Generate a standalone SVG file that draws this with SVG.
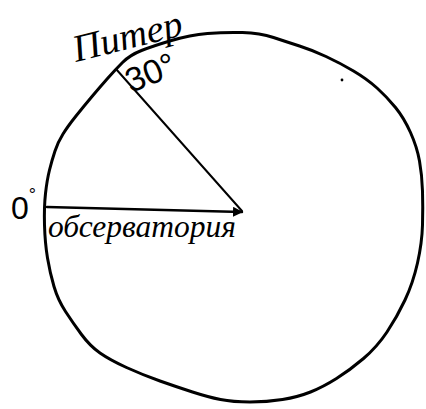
<svg xmlns="http://www.w3.org/2000/svg" width="426" height="409" viewBox="0 0 426 409">
<style>
.ink{fill:none;stroke:#000;stroke-linecap:round;stroke-linejoin:round}
.hand{font-family:"Liberation Serif","DejaVu Serif",serif;font-style:italic;fill:#000}
.num{font-family:"Liberation Sans","DejaVu Sans",sans-serif;fill:#000}
</style>
<defs>
<marker id="tip" viewBox="0 0 10 10" refX="9" refY="5" markerWidth="4" markerHeight="4" orient="auto">
<path d="M0,0 L10,5 L0,10 Z" fill="#000"/>
</marker>
</defs>
<rect width="426" height="409" fill="#fff"/>
<g id="earth">
<path class="ink" stroke-width="3" d="M 141.5,50.5 Q 153,46 171.5,40.5 Q 190,35 207.5,33.5 Q 225,32 242.5,32.5 Q 260,33 273.5,37.5 Q 287,42 299.5,46 Q 312,50 326,56.5 Q 340,63 353.5,71 Q 367,79 377,88 Q 387,97 395.5,107.5 Q 404,118 410.5,132.5 Q 417,147 419.5,161 Q 422,175 422.5,191 Q 423,207 422.5,225 Q 422,243 417.5,263 Q 413,283 405,300 Q 397,317 387,332 Q 377,347 363.5,358.5 Q 350,370 336.5,378.5 Q 323,387 310.5,392 Q 298,397 282.5,399.5 Q 267,402 250,402 Q 233,402 220.5,399.5 Q 208,397 192.5,392 Q 177,387 160,381 Q 143,375 126.5,367.5 Q 110,360 100,353 Q 90,346 81.5,334.5 Q 73,323 65.5,311.5 Q 58,300 54,286.5 Q 50,273 47.5,258 Q 45,243 44.5,225 Q 44,207 45.5,193.5 Q 47,180 49.5,170 Q 52,160 55,151 Q 58,142 63,134 Q 68,126 76,116 Q 84,106 92,96.5 Q 100,87 107.5,78.5 Q 115,70 122.5,62.5 Q 130,55 141.5,50.5 Z"/>
<circle cx="342" cy="80" r="1.4" fill="#000"/>
</g>
<g id="connectors">
<line class="ink" stroke-width="2" x1="116" y1="69" x2="242" y2="211"/>
<line class="ink" stroke-width="2.5" x1="47" y1="207" x2="242" y2="212" marker-end="url(#tip)"/>
</g>
<g id="piter">
<text class="hand" font-size="38" transform="translate(76,62) rotate(-14)" textLength="112" lengthAdjust="spacingAndGlyphs">Питер</text>
</g>
<g id="angle30">
<text class="num" font-size="34" transform="translate(131,93) rotate(-22)">30°</text>
</g>
<g id="angle0">
<text class="num" font-size="32" x="11" y="219">0<tspan font-size="18" dy="-18">°</tspan></text>
</g>
<g id="observatory">
<text class="hand" font-size="32" x="48" y="237" textLength="188" lengthAdjust="spacingAndGlyphs">обсерватория</text>
</g>
</svg>
